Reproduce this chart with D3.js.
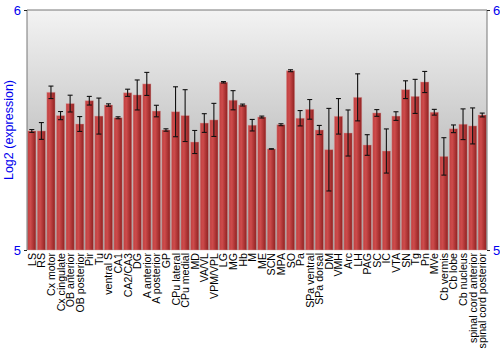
<!DOCTYPE html>
<html>
<head>
<meta charset="utf-8">
<style>
body { margin: 0; background: #fff; }
svg text { font-family: "Liberation Sans", Arial, sans-serif; }
</style>
</head>
<body>
<svg id="chart" width="500" height="350"></svg>
<script src="https://cdn.jsdelivr.net/npm/d3@7"></script>
<script>
// regions on the x axis
var regions = ["LS", "RS", "Cx motor", "Cx cingulate", "OB anterior", "OB posterior", "Pir", "Tu",
  "ventral S", "CA1", "CA2/CA3", "DG", "A anterior", "A posterior", "GP", "CPu lateral",
  "CPu medial", "MD", "VA/VL", "VPM/VPL", "LG", "MG", "Hb", "M", "ME", "SCN", "MPA", "SO",
  "Pa", "SPa ventral", "SPa dorsal", "DM", "VMH", "Arc", "LH", "PAG", "SC", "IC", "VTA", "SN",
  "Tg", "Pn", "MVe", "Cb vermis", "Cb lobe", "Cb nucleus", "spinal cord anterior", "spinal cord posterior"];
// mean log2 expression
var values = [5.496, 5.496, 5.657, 5.560, 5.610, 5.525, 5.622, 5.558,
  5.604, 5.551, 5.655, 5.646, 5.692, 5.579, 5.500, 5.576,
  5.560, 5.450, 5.529, 5.542, 5.699, 5.624, 5.604, 5.520, 5.554, 5.421, 5.522, 5.747,
  5.549, 5.586, 5.500, 5.418, 5.557, 5.4875, 5.636, 5.4375, 5.571, 5.4125, 5.558, 5.668,
  5.640, 5.700, 5.574, 5.390, 5.505, 5.524, 5.517, 5.5625];
// error (+/-)
var errors = [0.006, 0.035, 0.026, 0.017, 0.035, 0.031, 0.018, 0.075,
  0.005, 0.004, 0.015, 0.0625, 0.048, 0.024, 0.005, 0.104,
  0.108, 0.048, 0.039, 0.069, 0.003, 0.040, 0.004, 0.024, 0.004, 0.001, 0.004, 0.004,
  0.032, 0.041, 0.019, 0.172, 0.074, 0.096, 0.098, 0.043, 0.014, 0.092, 0.018, 0.037,
  0.071, 0.044, 0.012, 0.078, 0.016, 0.064, 0.075, 0.008];
var yTicks = [5, 6];

var svg = d3.select("#chart");
var pL = 27, pR = 487, pT = 10, pB = 250;

var x = d3.scaleBand().domain(regions).range([pL, pR]).paddingInner(0.14).paddingOuter(0.07);
var y = d3.scaleLinear().domain([5, 6]).range([pB, pT]);

var defs = svg.append("defs");
var bg = defs.append("linearGradient").attr("id", "bg").attr("x1", 0).attr("y1", 0).attr("x2", 0).attr("y2", 1);
bg.append("stop").attr("offset", "0%").attr("stop-color", "#f3f3f3");
bg.append("stop").attr("offset", "100%").attr("stop-color", "#a0a0a0");
var bar = defs.append("linearGradient").attr("id", "bar").attr("x1", 0).attr("y1", 0).attr("x2", 1).attr("y2", 0);
bar.append("stop").attr("offset", "0%").attr("stop-color", "#c04040");
bar.append("stop").attr("offset", "35%").attr("stop-color", "#cd4b4b");
bar.append("stop").attr("offset", "100%").attr("stop-color", "#8f2020");

// background
svg.append("rect")
  .attr("x", pL).attr("y", pT)
  .attr("width", pR - pL).attr("height", pB - pT)
  .attr("fill", "url(#bg)");

// bars
svg.selectAll(".bar")
  .data(regions)
  .enter()
  .append("rect")
  .attr("class", "bar")
  .attr("x", d => x(d))
  .attr("y", (d, i) => y(values[i]))
  .attr("width", x.bandwidth())
  .attr("height", (d, i) => pB - y(values[i]))
  .attr("fill", "url(#bar)")
  .attr("stroke", "#d9a0a0")
  .attr("stroke-opacity", 0.5)
  .attr("stroke-width", 0.8);

// error bars
var eb = svg.selectAll(".err")
  .data(regions)
  .enter()
  .append("g")
  .attr("class", "err")
  .attr("stroke", "#111")
  .attr("stroke-width", 1.1);
eb.append("line")
  .attr("x1", d => x(d) + x.bandwidth() / 2)
  .attr("x2", d => x(d) + x.bandwidth() / 2)
  .attr("y1", (d, i) => y(values[i] + errors[i]))
  .attr("y2", (d, i) => y(values[i] - errors[i]));
eb.append("line")
  .attr("x1", d => x(d) + x.bandwidth() / 2 - 2.5)
  .attr("x2", d => x(d) + x.bandwidth() / 2 + 2.5)
  .attr("y1", (d, i) => y(values[i] + errors[i]))
  .attr("y2", (d, i) => y(values[i] + errors[i]));
eb.append("line")
  .attr("x1", d => x(d) + x.bandwidth() / 2 - 2.5)
  .attr("x2", d => x(d) + x.bandwidth() / 2 + 2.5)
  .attr("y1", (d, i) => y(values[i] - errors[i]))
  .attr("y2", (d, i) => y(values[i] - errors[i]));

// frame: left, top, right
svg.append("path")
  .attr("d", "M" + pL + "," + pB + "V" + pT + "H" + pR + "V" + pB)
  .attr("fill", "none")
  .attr("stroke", "#777")
  .attr("stroke-width", 1);

// y axes both sides
var yl = svg.append("g").attr("transform", "translate(" + pL + ",0)")
  .call(d3.axisLeft(y).tickValues(yTicks).tickFormat(d3.format("d")).tickSize(3));
var yr = svg.append("g").attr("transform", "translate(" + pR + ",0)")
  .call(d3.axisRight(y).tickValues(yTicks).tickFormat(d3.format("d")).tickSize(3));
[yl, yr].forEach(function(a) {
  a.select(".domain").remove();
  a.selectAll("line").attr("stroke", "#222");
  a.selectAll("text").attr("fill", "#0000ee").style("font-size", "13px");
});

// x labels
svg.selectAll(".xl")
  .data(regions)
  .enter()
  .append("text")
  .attr("class", "xl")
  .attr("transform", d => "translate(" + (x(d) + x.bandwidth() / 2 + 4) + "," + (pB + 3) + ") rotate(-90)")
  .attr("text-anchor", "end")
  .style("font-size", "10.6px")
  .attr("fill", "#000")
  .text(d => d);

// y title
svg.append("text")
  .attr("transform", "translate(13," + ((pT + pB) / 2) + ") rotate(-90)")
  .attr("text-anchor", "middle")
  .attr("fill", "#0000ee")
  .style("font-size", "12.5px")
  .text("Log2 (expression)");
</script>
</body>
</html>
